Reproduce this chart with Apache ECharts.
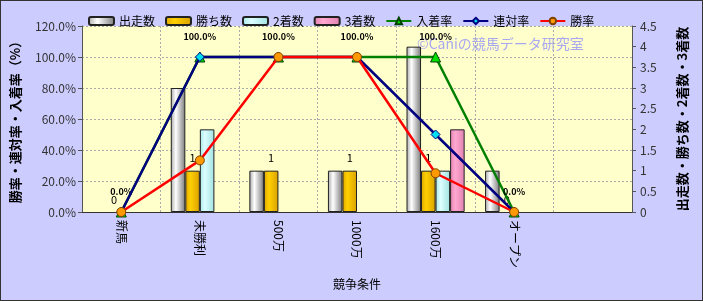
<!DOCTYPE html>
<html><head><meta charset="utf-8">
<script src="https://cdn.jsdelivr.net/npm/echarts@6/dist/echarts.min.js"></script>
<style>html,body{margin:0;padding:0;background:#CCCCFF;}#c{width:703px;height:301px;box-sizing:border-box;border:1px solid #333;}</style>
</head><body><div id="c"></div>
<script>
var categories = ['新馬','未勝利','500万','1000万','1600万','オープン',''];
var starts   = [0,3,1,1,4,1,null];
var wins     = [0,1,1,1,1,0,null];
var seconds  = [0,2,0,0,1,0,null];
var thirds   = [0,0,0,0,2,0,null];
var placeRate = [0,100,100,100,100,0,null];
var rentaiRate = [0,100,100,100,50,0,null];
var winRate  = [0,33.3,100,100,25,0,null];
var leftTicks = [0,20,40,60,80,100,120];
var rightTicks = [0,0.5,1,1.5,2,2.5,3,3.5,4,4.5];

var F = '"Noto Sans CJK JP", sans-serif';
function grad(a,b,c){return new echarts.graphic.LinearGradient(0,0,1,0,[{offset:0,color:a},{offset:0.35,color:b},{offset:1,color:c}]);}
function items(arr){return arr.map(function(v){return v===null?null:{value:v,itemStyle:{borderWidth:v?1:0,opacity:v?1:0}};});}
var chart = echarts.init(document.getElementById('c'));
chart.setOption({
  backgroundColor:'#CCCCFF',
  textStyle:{fontFamily:F},
  animation:false,
  legend:{left:82,top:9,itemWidth:25,itemHeight:8,itemGap:10,textStyle:{fontSize:12,color:'#000',fontFamily:F},
    data:['出走数','勝ち数','2着数','3着数','入着率','連対率','勝率']},
  grid:{left:77,right:70,top:25,bottom:88,show:true,backgroundColor:'#FFFFCC',borderColor:'#888',borderWidth:0},
  graphic:[{type:'text',left:416,top:36,style:{text:'©Caniの競馬データ研究室',fill:'#A8A8F0',font:'14px '+F}}],
  xAxis:{type:'category',data:categories,boundaryGap:true,
    name:'競争条件',nameLocation:'middle',nameGap:66,nameTextStyle:{fontSize:12,color:'#000',fontFamily:F},
    axisLine:{lineStyle:{color:'#333',width:1}},axisTick:{show:false},
    axisLabel:{rotate:-90,interval:0,fontSize:12,color:'#000',margin:8,fontFamily:F},
    splitLine:{show:true,lineStyle:{color:'#aaa',type:[2,2]}}},
  yAxis:[
    {type:'value',min:0,max:120,interval:20,position:'left',
     name:'勝率・連対率・入着率（%）',nameLocation:'middle',nameGap:60,nameRotate:90,
     nameTextStyle:{fontSize:13,color:'#000',fontWeight:'bold',fontFamily:F},
     axisLine:{show:true,lineStyle:{color:'#555'}},axisTick:{show:true,length:4,lineStyle:{color:'#555'}},
     axisLabel:{formatter:function(v){return v.toFixed(1)+'%';},fontSize:12,color:'#333',margin:6},
     splitLine:{show:true,lineStyle:{color:'#aaa',type:[2,2]}}},
    {type:'value',min:0,max:4.5,interval:0.5,position:'right',
     name:'出走数・勝ち数・2着数・3着数',nameLocation:'middle',nameGap:44,nameRotate:90,
     nameTextStyle:{fontSize:13,color:'#000',fontWeight:'bold',fontFamily:F},
     axisLine:{show:true,lineStyle:{color:'#555'}},axisTick:{show:true,length:4,lineStyle:{color:'#555'}},
     axisLabel:{fontSize:12,color:'#333',margin:8},
     splitLine:{show:false}}
  ],
  series:[
    {name:'出走数',type:'bar',yAxisIndex:1,data:items(starts),barGap:'0%',barCategoryGap:'26%',
     itemStyle:{color:grad('#A8A8A8','#FFFFFF','#7A7A7A'),borderColor:'#222',borderWidth:1}},
    {name:'勝ち数',type:'bar',yAxisIndex:1,data:items(wins),
     itemStyle:{color:grad('#E0A800','#FFD000','#D9A000'),borderColor:'#222',borderWidth:1},
     label:{show:true,position:'top',distance:7,fontSize:11,color:'#000',fontFamily:F,opacity:1}},
    {name:'2着数',type:'bar',yAxisIndex:1,data:items(seconds),
     itemStyle:{color:grad('#A8E8E8','#DDFFFF','#A0E0E0'),borderColor:'#222',borderWidth:1}},
    {name:'3着数',type:'bar',yAxisIndex:1,data:items(thirds),
     itemStyle:{color:grad('#E080B0','#FFA8D0','#E080B0'),borderColor:'#222',borderWidth:1}},
    {name:'入着率',type:'line',yAxisIndex:0,data:placeRate,symbol:'triangle',symbolSize:10,
     lineStyle:{color:'#008000',width:2.5},itemStyle:{color:'#00E000',borderColor:'#004000',borderWidth:1},
     label:{show:true,position:'top',distance:10,fontSize:9,fontWeight:'bold',color:'#000',
       formatter:function(p){return p.value.toFixed(1)+'%';}},z:3},
    {name:'連対率',type:'line',yAxisIndex:0,data:rentaiRate,symbol:'diamond',symbolSize:9,
     lineStyle:{color:'#000080',width:2.5},itemStyle:{color:'#00E0F0',borderColor:'#000080',borderWidth:1},z:4},
    {name:'勝率',type:'line',yAxisIndex:0,data:winRate,symbol:'circle',symbolSize:9,
     lineStyle:{color:'#FF0000',width:2.5},itemStyle:{color:'#FF9900',borderColor:'#804000',borderWidth:1},z:5}
  ]
});
</script></body></html>
